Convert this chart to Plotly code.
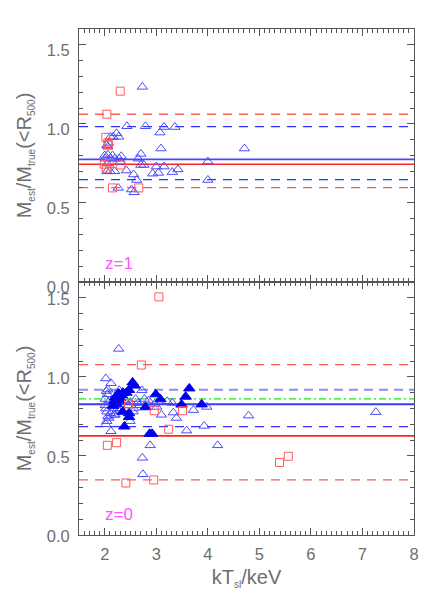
import plotly.graph_objects as go

# ---- data ----
# top panel (z=1)
top_tri_x = [2.73, 2.43, 2.79, 3.15, 3.36, 3.07, 2.23, 2.11, 2.16, 2.27, 2.07, 2.04, 2.06, 3.09, 4.71,
             2.70, 2.00, 2.06, 2.15, 2.32, 2.01, 2.11, 2.20, 2.28, 2.65, 4.00, 2.70, 2.76, 3.15, 3.00,
             3.42, 2.04, 2.10, 2.19, 2.42, 3.31, 3.04, 2.93, 2.56, 2.62, 4.00, 2.26, 2.52, 2.57, 2.30, 2.05]
top_tri_y = [1.234, 0.985, 0.985, 0.98, 0.98, 0.945, 0.94, 0.918, 0.918, 0.918, 0.88, 0.865, 0.855, 0.844, 0.844,
             0.81, 0.80, 0.805, 0.80, 0.795, 0.78, 0.78, 0.78, 0.78, 0.78, 0.762, 0.74, 0.74, 0.73, 0.73,
             0.712, 0.70, 0.70, 0.70, 0.705, 0.695, 0.69, 0.685, 0.68, 0.645, 0.645, 0.595, 0.585, 0.567, 0.76, 0.75]
top_sq_x = [2.30, 2.04, 2.02, 2.06, 2.07, 1.99, 2.03, 2.09, 2.31, 2.15, 2.66]
top_sq_y = [1.207, 1.061, 0.915, 0.88, 0.87, 0.745, 0.72, 0.75, 0.74, 0.595, 0.595]
top_red_solid = [0.745]
top_red_dash = [1.061, 0.597]
top_blue_solid = [0.775]
top_blue_dash = [0.982, 0.648]

# bottom panel (z=0)
bot_tri_x = [2.27, 2.02, 2.12, 2.06, 2.03, 2.05, 2.28, 2.72, 2.01, 2.09, 2.15, 2.60, 2.77, 3.21, 3.31,
             2.01, 2.02, 2.04, 2.64, 2.67, 2.97, 3.01, 3.72, 3.98, 3.33, 3.10, 3.39, 2.56, 2.55, 2.49,
             2.06, 2.11, 2.20, 2.28, 2.04, 2.02, 2.12, 3.59, 3.93, 4.79, 7.26, 4.19, 2.88, 2.73, 2.74,
             2.40, 2.50, 2.85, 2.30, 2.45, 2.18, 2.08, 2.25]
bot_tri_y = [1.177, 0.99, 0.96, 0.92, 0.91, 0.89, 0.915, 0.915, 0.86, 0.85, 0.84, 0.86, 0.86, 0.845, 0.835,
             0.82, 0.80, 0.78, 0.835, 0.82, 0.83, 0.81, 0.79, 0.81, 0.774, 0.76, 0.74, 0.80, 0.78, 0.72,
             0.75, 0.77, 0.76, 0.78, 0.72, 0.70, 0.656, 0.66, 0.69, 0.755, 0.777, 0.567, 0.567, 0.488, 0.384,
             0.85, 0.84, 0.85, 0.80, 0.82, 0.76, 0.74, 0.80]
bot_fill_x = [2.54, 2.58, 2.47, 2.35, 2.24, 2.20, 2.30, 2.27, 2.33, 2.42, 2.19, 2.28, 2.16, 2.22,
              3.64, 2.99, 3.08, 3.57, 3.49, 3.88, 2.79, 2.35, 2.47, 2.47, 2.38, 2.87, 2.92]
bot_fill_y = [0.965, 0.945, 0.917, 0.90, 0.885, 0.87, 0.865, 0.895, 0.885, 0.90, 0.845, 0.85, 0.817, 0.83,
              0.927, 0.89, 0.858, 0.875, 0.825, 0.826, 0.808, 0.78, 0.77, 0.746, 0.686, 0.64, 0.64]
bot_sq_x = [3.05, 2.71, 2.46, 2.96, 3.51, 3.24, 2.05, 2.23, 2.41, 2.95, 5.39, 5.56]
bot_sq_y = [1.506, 1.075, 0.829, 0.786, 0.786, 0.669, 0.567, 0.584, 0.329, 0.348, 0.459, 0.498]
bot_red_solid = [0.627]
bot_red_dash = [1.078, 0.348]
bot_blue_solid = [0.827]
bot_blue_dash = [0.686]
bot_blue_dash_light = [0.919]
bot_green_dashdot = [0.861]

x_ticks = [2, 3, 4, 5, 6, 7, 8]
y_ticks = [0.0, 0.5, 1.0, 1.5]
y_ticktext = ['0.0', '0.5', '1.0', '1.5']

GRAY = '#555555'
TXT = '#6e6e6e'
RED = '#ff5a5a'
FONT = 'Liberation Sans'

fig = go.Figure()


def pts(x, y, xa, ya, symbol, color, size):
    fig.add_trace(go.Scatter(x=x, y=y, xaxis=xa, yaxis=ya, mode='markers',
                             marker=dict(symbol=symbol, size=size, color=color,
                                         line=dict(width=1, color=color)),
                             showlegend=False, hoverinfo='skip'))


pts(top_tri_x, top_tri_y, 'x2', 'y2', 'triangle-up-open', '#4a4aff', 9)
pts(top_sq_x, top_sq_y, 'x2', 'y2', 'square-open', RED, 8)
pts(bot_tri_x, bot_tri_y, 'x', 'y', 'triangle-up-open', '#4a4aff', 9)
pts(bot_fill_x, bot_fill_y, 'x', 'y', 'triangle-up', '#0000ee', 10)
pts(bot_sq_x, bot_sq_y, 'x', 'y', 'square-open', RED, 8)


def hlines(vals, yref, color, dash, width=1.3):
    for v in vals:
        fig.add_shape(type='line', xref='x domain', x0=0, x1=1,
                      yref=yref, y0=v, y1=v, layer='below',
                      line=dict(color=color, width=width, dash=dash))


DASH = '9px,7px'
hlines(top_red_dash, 'y2', RED, DASH)
hlines(top_blue_dash, 'y2', '#3030ff', DASH)
hlines(top_blue_solid, 'y2', '#4848ff', 'solid', 1.8)
hlines(top_red_solid, 'y2', '#ff2424', 'solid', 1.6)

hlines(bot_red_dash, 'y', RED, DASH)
hlines(bot_blue_dash, 'y', '#3030ff', DASH)
hlines(bot_blue_dash_light, 'y', '#8a8aff', '9px,6px', 2)
hlines(bot_green_dashdot, 'y', '#22dd22', '7px,3px,2px,3px')
hlines(bot_blue_solid, 'y', '#3a3aff', 'solid', 1.8)
hlines(bot_red_solid, 'y', '#ff2424', 'solid', 1.6)

fig.add_annotation(x=2.27, y=0.12, xref='x2', yref='y2', text='z=1', showarrow=False,
                   font=dict(color='#ff55ff', size=17, family=FONT))
fig.add_annotation(x=2.27, y=0.13, xref='x', yref='y', text='z=0', showarrow=False,
                   font=dict(color='#ff55ff', size=17, family=FONT))


def sub(s):
    return '<sub><span style="font-size:10px">' + s + '</span></sub>'


ytitle = 'M' + sub('est') + '/M' + sub('true') + '(&lt;R' + sub('500') + ')'
xtitle = 'kT' + sub('sl') + '/keV'

title_font = dict(size=20, color=TXT, family=FONT)
axis_common = dict(showline=True, linecolor=GRAY, linewidth=1, mirror='allticks',
                   ticks='inside', ticklen=7, tickcolor=GRAY, showgrid=False, zeroline=False,
                   automargin=False,
                   tickfont=dict(size=16.5, color=TXT, family=FONT))
minor = dict(dtick=0.1, ticklen=4, ticks='inside', tickcolor=GRAY)

# page body adds an 8px offset, so the figure is sized to fit the 436x596 window
fig.update_layout(
    template='none',
    width=428, height=588,
    margin=dict(l=70.5, r=21.5, t=21.3, b=60.5),
    plot_bgcolor='white', paper_bgcolor='white',
    xaxis=dict(domain=[0, 1], anchor='y', range=[1.5, 8], tickvals=x_ticks,
               minor=minor, ticklabelstandoff=4,
               title=dict(text=xtitle, font=title_font, standoff=8),
               **axis_common),
    yaxis=dict(domain=[0, 0.5], anchor='x', range=[0, 1.6], tickvals=y_ticks,
               ticktext=y_ticktext, minor=minor, ticklabelstandoff=5, ticklabelshift=1,
               title=dict(text=ytitle, font=title_font, standoff=9),
               **axis_common),
    xaxis2=dict(domain=[0, 1], anchor='y2', range=[1.5, 8], tickvals=x_ticks, matches='x',
                showticklabels=False, minor=minor,
                **axis_common),
    yaxis2=dict(domain=[0.5, 1], anchor='x2', range=[0, 1.6], tickvals=y_ticks,
                ticktext=y_ticktext, minor=minor, ticklabelstandoff=5, ticklabelshift=5,
                title=dict(text=ytitle, font=title_font, standoff=9),
                **axis_common),
)

fig.write_html("out.html")
